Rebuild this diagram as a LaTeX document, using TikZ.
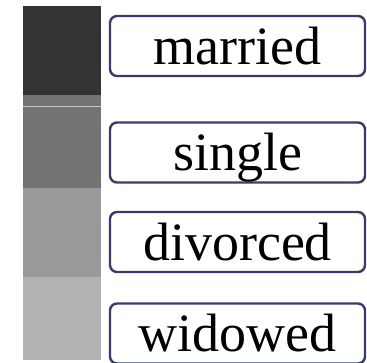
\documentclass[tikz,border=0pt]{standalone}
\usepackage{fontspec}
\setmainfont{Liberation Serif}
\definecolor{boxline}{HTML}{3B3B6B}
\definecolor{segA}{HTML}{333333}
\definecolor{segB}{HTML}{737373}
\definecolor{segC}{HTML}{999999}
\definecolor{segD}{HTML}{B3B3B3}
\definecolor{sepline}{HTML}{C8C8C8}
\tikzset{
  labelbox/.style={draw=boxline, line width=2.4pt, rounded corners=7pt, fill=white,
    minimum width=255pt, minimum height=60pt, text height=36pt, text depth=0pt,
    inner sep=0pt, font=\fontsize{54}{60}\selectfont, text=black}
}
\begin{document}
\begin{tikzpicture}[x=1pt,y=-1pt]
\useasboundingbox (0,0) rectangle (367,362);
\fill[white] (0,0) rectangle (367,362);
% bar segments
\fill[segB] (23,94) rectangle (101,189);
\fill[segC] (23,188) rectangle (101,278);
\fill[segD] (23,277) rectangle (101,360);
\fill[segA] (23,6) rectangle (101,95);
\draw[sepline, line width=0.8pt] (23,106) -- (101,106);
% labels
\node[labelbox] (married) at (237.5,46) {married};
\node[labelbox] (single) at (237.5,152.5) {single};
\node[labelbox] (divorced) at (237.5,242) {divorced};
\node[labelbox] (widowed) at (237.5,333.5) {widowed};
\end{tikzpicture}
\end{document}
